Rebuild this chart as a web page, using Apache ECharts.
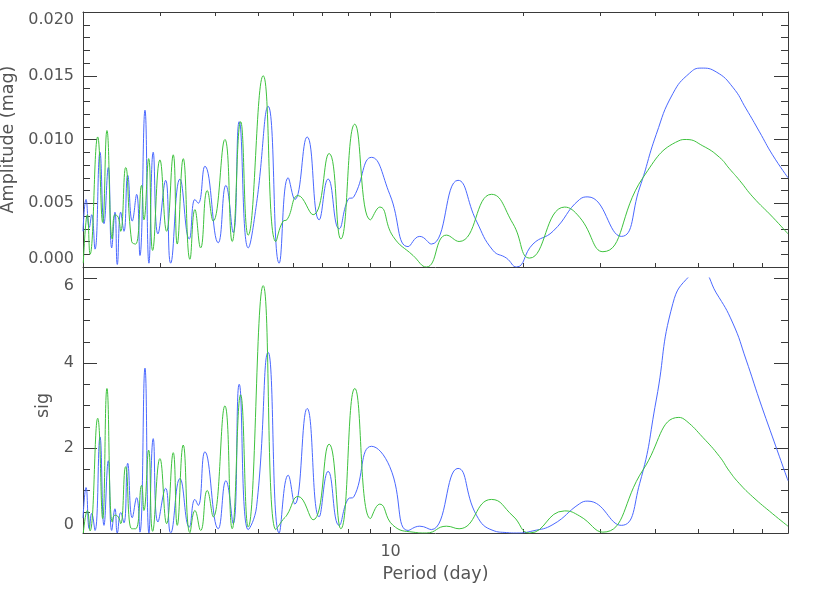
<!DOCTYPE html>
<html><head><meta charset="utf-8">
<script src="https://cdn.jsdelivr.net/npm/echarts@6/dist/echarts.min.js"></script>
<style>html,body{margin:0;padding:0;background:#fff}#c{width:830px;height:593px}</style>
</head><body><div id="c"></div>
<script>
// Period grid (days) for the blue series, with amplitude (mag) and significance
const periodsBlue = [2.000,2.032,2.067,2.093,2.130,2.186,2.232,2.283,2.324,2.364,2.393,2.436,2.478,2.527,2.588,2.648,2.694,2.766,2.824,2.888,2.960,3.082,3.164,3.321,3.487,3.592,3.655,3.785,4.058,4.224,4.389,4.529,4.747,4.960,5.270,5.582,5.851,6.059,6.462,6.880,7.211,7.638,8.006,8.249,9.049,9.957,10.96,11.65,12.38,14.23,15.67,17.09,18.33,19.31,21.06,23.39,26.89,28.08,33.44,36.80,40.15,43.80,47.79,50.80,54.95,59.93,64.28,68.91,73.76,80.00];
const ampBlue = [0.0028,0.0053,0.0031,0.0041,0.0014,0.0090,0.0034,0.0078,0.0015,0.0043,0.0002,0.0043,0.0028,0.0072,0.0036,0.0057,0.0009,0.0123,0.0003,0.0090,0.0026,0.0068,0.0003,0.0069,0.0022,0.0053,0.0050,0.0079,0.0019,0.0064,0.0027,0.0114,0.0015,0.0050,0.0126,0.0003,0.0070,0.0053,0.0102,0.0037,0.0069,0.0030,0.0053,0.0055,0.0086,0.0057,0.0016,0.0024,0.0018,0.0068,0.0036,0.0013,0.0007,0.0000,0.0018,0.0028,0.0053,0.0055,0.0024,0.0062,0.0104,0.0136,0.0152,0.0156,0.0153,0.0141,0.0124,0.0106,0.0088,0.0070];
const sigBlue = [0.35,1.07,0.10,0.46,0.06,2.26,0.18,1.70,0.06,0.57,0.00,0.48,0.24,1.64,0.36,0.83,0.02,3.88,0.00,2.22,0.26,1.05,0.00,1.28,0.14,0.79,0.65,1.91,0.10,1.23,0.22,3.50,0.08,0.62,4.25,0.00,1.36,0.68,2.93,0.38,1.45,0.18,0.80,0.85,2.04,1.56,0.06,0.16,0.08,1.52,0.42,0.06,0.01,0.00,0.05,0.20,0.69,0.75,0.18,1.16,3.13,5.40,6.05,6.15,5.65,4.94,4.07,3.13,2.26,1.23];

// Period grid (days) for the green series
const periodsGreen = [2.003,2.046,2.075,2.160,2.217,2.267,2.331,2.364,2.405,2.436,2.500,2.580,2.635,2.718,2.751,2.820,2.879,2.991,3.098,3.207,3.275,3.379,3.500,3.592,3.701,3.831,3.953,4.202,4.366,4.562,4.747,5.134,5.486,5.700,5.811,6.165,6.667,7.249,7.707,8.292,9.001,9.450,10.13,11.25,12.06,13.39,14.31,16.95,18.97,20.70,24.86,26.89,30.37,37.44,45.19,46.97,51.23,55.91,58.91,62.07,66.54,73.87,80.00];
const ampGreen = [0.0003,0.0041,0.0010,0.0102,0.0035,0.0107,0.0022,0.0041,0.0039,0.0028,0.0078,0.0020,0.0018,0.0064,0.0037,0.0085,0.0013,0.0084,0.0028,0.0088,0.0018,0.0085,0.0006,0.0045,0.0015,0.0060,0.0036,0.0100,0.0020,0.0114,0.0025,0.0150,0.0020,0.0036,0.0037,0.0056,0.0041,0.0089,0.0022,0.0112,0.0037,0.0047,0.0024,0.0009,0.0000,0.0025,0.0020,0.0057,0.0034,0.0007,0.0047,0.0039,0.0012,0.0070,0.0099,0.0100,0.0095,0.0086,0.0077,0.0068,0.0055,0.0039,0.0026];
const sigGreen = [0.00,0.53,0.05,2.70,0.34,3.40,0.26,0.42,0.38,0.22,1.56,0.10,0.10,1.12,0.53,1.95,0.04,1.75,0.22,1.89,0.18,2.07,0.01,0.53,0.06,1.00,0.38,2.99,0.10,3.25,0.14,5.82,0.08,0.32,0.42,0.86,0.31,2.09,0.10,3.40,0.34,0.68,0.18,0.02,0.00,0.16,0.10,0.79,0.40,0.00,0.52,0.40,0.02,1.48,2.72,2.64,2.25,1.80,1.45,1.16,0.85,0.45,0.16];

// Axis ticks / labels
const xTicksMinor = [3,4,5,6,7,8,9,20,30,40,50,60,70];
const xTicksMajor = [10];
const xTickLabels = ['10'];

const axisColor = '#3a3a3a';
const textColor = '#555555';
const blue = '#4a68ff';
const green = '#3ec23e';

function xAx(gridIndex, position, ticks, len, showLine, withLabel) {
  return {
    type: 'log', logBase: 10, min: 2, max: 80, gridIndex: gridIndex, position: position,
    axisLine: { show: showLine, lineStyle: { color: axisColor, width: 1 } },
    axisTick: { show: true, inside: true, length: len, customValues: ticks, lineStyle: { color: axisColor, width: 1 } },
    axisLabel: withLabel ? {
      show: true, customValues: ticks, margin: 11, color: textColor, fontSize: 16, fontFamily: 'DejaVu Sans',
      formatter: function (v) { const i = xTicksMajor.indexOf(Math.round(v)); return i >= 0 ? xTickLabels[i] : ''; }
    } : { show: false },
    splitLine: { show: false }, minorTick: { show: false }, minorSplitLine: { show: false }
  };
}

function yAx(gridIndex, position, min, max, interval, minorSplit, withLabel, decimals) {
  return {
    type: 'value', gridIndex: gridIndex, position: position, min: min, max: max, interval: interval,
    axisLine: { show: true, onZero: false, lineStyle: { color: axisColor, width: 1 } },
    axisTick: { show: true, inside: true, length: 14, lineStyle: { color: axisColor, width: 1 } },
    minorTick: { show: true, splitNumber: minorSplit, length: 7, lineStyle: { color: axisColor, width: 1 } },
    axisLabel: withLabel ? {
      show: true, margin: 9, color: textColor, fontSize: 16, fontFamily: 'DejaVu Sans',
      verticalAlignMinLabel: 'bottom', verticalAlignMaxLabel: 'top',
      formatter: function (v) { return v.toFixed(decimals); }
    } : { show: false },
    splitLine: { show: false }, minorSplitLine: { show: false }
  };
}

const nameStyle = { color: textColor, fontSize: 17.5, fontFamily: 'DejaVu Sans' };
const yAmpL = yAx(0, 'left', 0, 0.02, 0.005, 5, true, 3);
yAmpL.name = 'Amplitude (mag)'; yAmpL.nameLocation = 'middle'; yAmpL.nameGap = 64;
yAmpL.nameTextStyle = nameStyle;
const ySigL = yAx(1, 'left', 0, 6, 2, 4, true, 0);
ySigL.name = 'sig'; ySigL.nameLocation = 'middle'; ySigL.nameGap = 28;
ySigL.nameTextStyle = nameStyle;

const xLowerMajor = xAx(1, 'bottom', xTicksMajor, 6, false, true);
xLowerMajor.name = 'Period (day)'; xLowerMajor.nameLocation = 'middle'; xLowerMajor.nameGap = 32;
xLowerMajor.nameTextStyle = nameStyle;

function frameY(position) {
  return { type: 'value', gridIndex: 2, position: position, min: 0, max: 1,
    axisLine: { show: true, onZero: false, lineStyle: { color: axisColor, width: 1 } },
    axisTick: { show: false }, axisLabel: { show: false }, splitLine: { show: false } };
}

function pairs(xs, ys) { return xs.map(function (x, i) { return [x, ys[i]]; }); }

const option = {
  animation: false,
  backgroundColor: '#ffffff',
  textStyle: { fontFamily: 'DejaVu Sans' },
  grid: [
    { left: 83, right: 42, top: 12, height: 255, containLabel: false, outerBoundsMode: 'none' },
    { left: 83, right: 42, top: 278, height: 255, containLabel: false, outerBoundsMode: 'none' },
    { left: 83, right: 42, top: 267, height: 266, containLabel: false, outerBoundsMode: 'none' }
  ],
  xAxis: [
    xAx(0, 'bottom', xTicksMinor, 4, true, false),
    xAx(0, 'bottom', xTicksMajor, 6, false, false),
    xAx(0, 'top', xTicksMinor, 4, true, false),
    xAx(0, 'top', xTicksMajor, 6, false, false),
    xAx(1, 'bottom', xTicksMinor, 4, true, false),
    xLowerMajor,
    { type: 'log', logBase: 10, min: 2, max: 80, gridIndex: 2, show: false }
  ],
  yAxis: [
    yAmpL,
    yAx(0, 'right', 0, 0.02, 0.005, 5, false, 3),
    ySigL,
    yAx(1, 'right', 0, 6, 2, 4, false, 0),
    frameY('left'),
    frameY('right')
  ],
  series: [
    { type: 'line', xAxisIndex: 0, yAxisIndex: 0, data: pairs(periodsBlue, ampBlue), smooth: 0.5, showSymbol: false, lineStyle: { color: blue, width: 1 }, itemStyle: { color: blue } },
    { type: 'line', xAxisIndex: 0, yAxisIndex: 0, data: pairs(periodsGreen, ampGreen), smooth: 0.5, showSymbol: false, lineStyle: { color: green, width: 1 }, itemStyle: { color: green } },
    { type: 'line', xAxisIndex: 4, yAxisIndex: 2, data: pairs(periodsBlue, sigBlue), smooth: 0.5, showSymbol: false, clip: true, lineStyle: { color: blue, width: 1 }, itemStyle: { color: blue } },
    { type: 'line', xAxisIndex: 4, yAxisIndex: 2, data: pairs(periodsGreen, sigGreen), smooth: 0.5, showSymbol: false, clip: true, lineStyle: { color: green, width: 1 }, itemStyle: { color: green } }
  ]
};

const chart = echarts.init(document.getElementById('c'), null, { renderer: 'canvas' });
chart.setOption(option);
</script></body></html>
